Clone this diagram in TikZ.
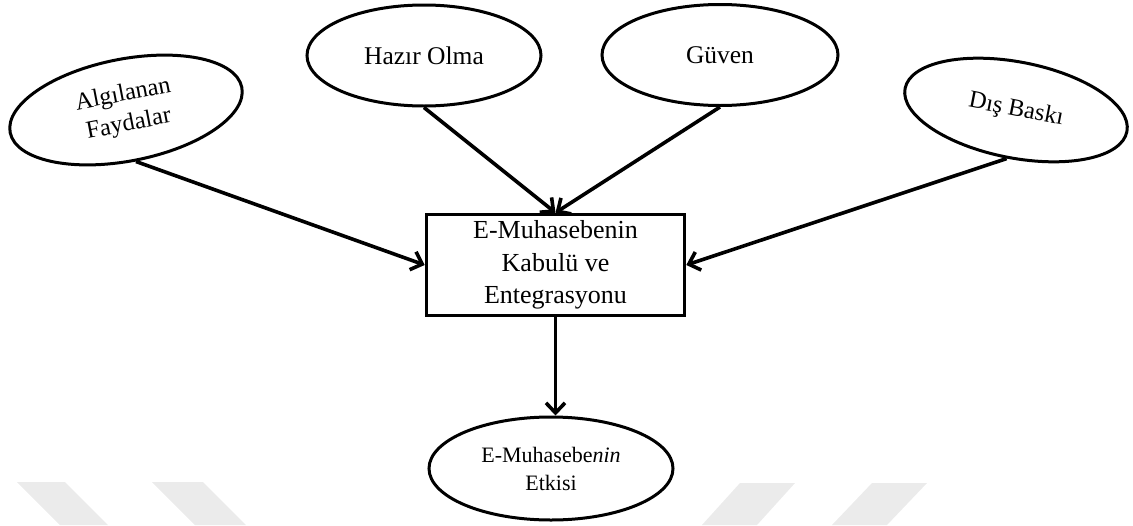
\documentclass[tikz,border=0pt]{standalone}
\usepackage{fontspec}
\setmainfont{Liberation Serif}
\usetikzlibrary{arrows.meta,shapes.geometric}
\tikzset{
  oval/.style={ellipse, draw=black, line width=3pt, fill=white, inner sep=0pt, align=center},
  boxnode/.style={rectangle, draw=black, line width=3.6pt, fill=white, inner sep=0pt, align=center},
  arr/.style={line width=3.6pt, draw=black, -{Straight Barb[length=10pt,width=19pt]}},
  wm/.style={fill=black!8, draw=none}
}
\begin{document}
\begin{tikzpicture}[x=1pt,y=-1pt]
\useasboundingbox (0,0) rectangle (1133,525);
% faint watermark stripes
\fill[wm] (17,482) -- (65,482) -- (108,525) -- (60,525) -- cycle;
\fill[wm] (152,482) -- (203,482) -- (246,525) -- (195,525) -- cycle;
\fill[wm] (740,483) -- (795,483) -- (757,525) -- (702,525) -- cycle;
\fill[wm] (872,483) -- (927,483) -- (887,525) -- (832,525) -- cycle;
% nodes
\node[oval, minimum width=236pt, minimum height=102pt, rotate=11,
      font=\fontsize{24.5}{30}\selectfont] (alg) at (126,110) {Algılanan\\Faydalar};
\node[oval, minimum width=234pt, minimum height=101pt,
      font=\fontsize{25.5}{30}\selectfont] (haz) at (424,55.5) {Hazır Olma};
\node[oval, minimum width=236pt, minimum height=101pt,
      font=\fontsize{25.5}{30}\selectfont] (guv) at (720,55) {Güven};
\node[oval, minimum width=226pt, minimum height=96pt, rotate=-11,
      font=\fontsize{24.5}{30}\selectfont] (dis) at (1016,110) {Dış Baskı};
\node[boxnode, minimum width=258pt, minimum height=101pt,
      font=\fontsize{26}{32.5}\selectfont] (box) at (555.5,265) {E-Muhasebenin\\Kabulü ve\\Entegrasyonu};
\node[oval, minimum width=244pt, minimum height=103pt,
      font=\fontsize{22}{28}\selectfont] (eff) at (551,468.5) {E-Muhaseb{e}\textit{nin}\\Etkisi};
% connectors
\draw[arr] (alg.south) -- (box.west);
\draw[arr] (haz.south) -- (box.north);
\draw[arr] (guv.south) -- (box.north);
\draw[arr] (dis.south) -- (box.east);
\draw[arr] (box.south) -- (box.south |- eff.north);
\end{tikzpicture}
\end{document}
